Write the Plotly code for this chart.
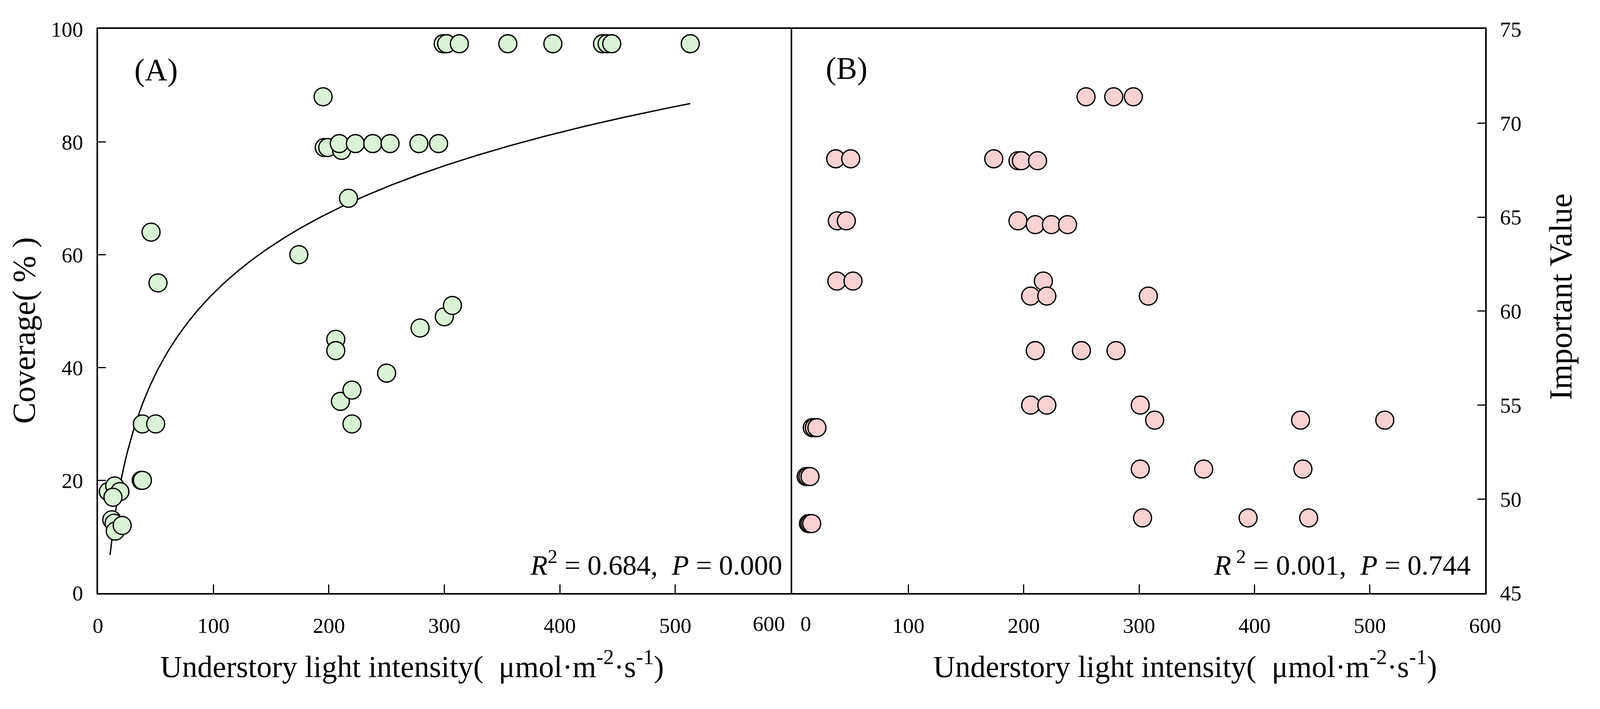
import numpy as np
import plotly.graph_objects as go

# panel A: understory light intensity vs coverage (%)
light_a = [9, 14.5, 19, 13, 12, 14, 15, 21, 37.5, 38.5, 38.5, 50, 46, 52,
           174, 195, 196, 199, 211, 209, 223, 238, 253, 278, 295, 217,
           206, 206, 210, 220, 220, 250, 279, 300, 307,
           299, 302, 313, 355, 394, 437, 441, 445, 513]
coverage = [18, 19, 18, 17, 13, 12.4, 11, 12, 20, 20, 30, 30, 64, 55,
            60, 88, 79, 79, 78.5, 79.7, 79.7, 79.7, 79.7, 79.7, 79.7, 70,
            45, 43, 34, 36, 30, 39, 47, 49, 51,
            97.4, 97.4, 97.4, 97.4, 97.4, 97.4, 97.4, 97.4, 97.4]

# panel B: understory light intensity vs important value
light_b = [254, 278, 295,
           37, 50, 174, 195, 198, 212,
           38.4, 46.2, 195, 210, 224, 238,
           38, 52, 217,
           206, 220, 308,
           210, 250, 280,
           206, 220, 301,
           313.5, 440, 513,
           16.7, 18.5, 20.7,
           301, 356, 442,
           11.4, 12.9, 14.7,
           303, 394.5, 447,
           13.4, 14.7, 16.2]
imp_value = [71.4, 71.4, 71.4,
             68.1, 68.1, 68.1, 68.0, 68.0, 68.0,
             64.8, 64.8, 64.8, 64.6, 64.6, 64.6,
             61.6, 61.6, 61.6,
             60.8, 60.8, 60.8,
             57.9, 57.9, 57.9,
             55.0, 55.0, 55.0,
             54.2, 54.2, 54.2,
             53.8, 53.8, 53.8,
             51.6, 51.6, 51.6,
             51.2, 51.2, 51.2,
             49.0, 49.0, 49.0,
             48.7, 48.7, 48.7]

# x ticks; the edge labels (600 on A, 0 on B) sit nudged off their ticks
a_xticks = [0, 100, 200, 300, 400, 500]
b_xticks = [100, 200, 300, 400, 500, 600]
a_edge_tick = 600
b_edge_tick = 0
cov_ticks = [0, 20, 40, 60, 80, 100]
iv_ticks = [45, 50, 55, 60, 65, 70, 75]

stats_a = "<i>R</i><sup>2</sup>\u00a0= 0.684,\u00a0\u00a0<i>P</i>\u00a0= 0.000"
stats_b = "<i>R</i><sup>\u00a02</sup>\u00a0= 0.001,\u00a0\u00a0<i>P</i>\u00a0= 0.744"
x_title = "Understory light intensity(\u00a0\u00a0\u03bcmol\u00b7m<sup>-2</sup>\u00b7s<sup>-1</sup>)"

# logarithmic fit y = a + b*ln(x) for panel A
b_fit, a_fit = np.polyfit(np.log(light_a), coverage, 1)
curve_x = np.linspace(min(light_a) + 1.5, max(light_a), 300)
curve_y = a_fit + b_fit * np.log(curve_x)

# positions below are fractions of the 4728 x 1816 reference
RW, RH = 4728, 1816
FONT = "Liberation Serif"
TICK_SIZE = 55
green = "#daf2d6"
pink = "#f9d1d2"

fig = go.Figure()
fig.add_trace(go.Scatter(x=curve_x, y=curve_y, mode="lines",
                         line=dict(color="black", width=3.5),
                         xaxis="x", yaxis="y", showlegend=False))
fig.add_trace(go.Scatter(x=light_a, y=coverage, mode="markers",
                         marker=dict(size=46, color=green,
                                     line=dict(color="black", width=3.3)),
                         xaxis="x", yaxis="y", showlegend=False))
fig.add_trace(go.Scatter(x=light_b, y=imp_value, mode="markers",
                         marker=dict(size=46, color=pink,
                                     line=dict(color="black", width=3.3)),
                         xaxis="x2", yaxis="y2", showlegend=False))

y_dom = [(RH - 1541) / RH, (RH - 46) / RH]
axis_common = dict(showline=True, linewidth=4, linecolor="black",
                   ticks="inside", tickwidth=3, tickcolor="black",
                   showgrid=False, zeroline=False,
                   tickfont=dict(family=FONT, size=TICK_SIZE, color="black"))

fig.update_layout(
    width=4080, height=1800,
    margin=dict(l=0, r=0, t=0, b=0),
    paper_bgcolor="white", plot_bgcolor="white",
    font=dict(family=FONT, color="black"),
    xaxis=dict(domain=[277 / RW, 2352 / RW], range=[0, 600], mirror=True,
               tickmode="array", tickvals=a_xticks,
               ticklen=22, ticklabelstandoff=32, anchor="y", **axis_common),
    yaxis=dict(domain=y_dom, range=[0, 100], mirror=True,
               tickmode="array", tickvals=cov_ticks,
               ticklen=20, ticklabelstandoff=23, anchor="x", **axis_common),
    xaxis2=dict(domain=[2352 / RW, 4432 / RW], range=[-2, 600], mirror=True,
                tickmode="array", tickvals=b_xticks,
                ticklen=22, ticklabelstandoff=32, anchor="y2", **axis_common),
    yaxis2=dict(domain=y_dom, range=[45, 75], side="right", mirror=False,
                tickmode="array", tickvals=iv_ticks,
                ticklen=20, ticklabelstandoff=23, anchor="x2", **axis_common),
)

ann = [
    dict(text="(A)", x=451 / RW, y=1 - 155 / RH, font=dict(size=80)),
    dict(text="(B)", x=2520 / RW, y=1 - 151 / RH, font=dict(size=80)),
    dict(text=stats_a, x=2328 / RW, y=1 - 1462 / RH, xanchor="right", font=dict(size=72)),
    dict(text=stats_b, x=4391 / RW, y=1 - 1462 / RH, xanchor="right", font=dict(size=72)),
    dict(text=x_title, x=1218 / RW, y=1 - 1730 / RH, font=dict(size=78)),
    dict(text=x_title, x=3533 / RW, y=1 - 1730 / RH, font=dict(size=78)),
    dict(text="Coverage(\u00a0%\u00a0)", x=56 / RW, y=1 - 845 / RH, textangle=-90, font=dict(size=82)),
    dict(text="Important Value", x=4659 / RW, y=1 - 756 / RH, textangle=-90, font=dict(size=82)),
]
for a in ann:
    a.setdefault("xanchor", "center")
    a.update(xref="paper", yref="paper", yanchor="middle", showarrow=False)
    a["font"].update(family=FONT, color="black")
    fig.add_annotation(**a)

# edge tick labels, placed on their axes and pushed clear of the shared border
fig.add_annotation(text=str(a_edge_tick), xref="x", x=a_edge_tick, yref="paper",
                   y=1 - 1622 / RH, yanchor="middle", xshift=-56, showarrow=False,
                   font=dict(family=FONT, size=TICK_SIZE, color="black"))
fig.add_annotation(text=str(b_edge_tick), xref="x2", x=b_edge_tick, yref="paper",
                   y=1 - 1622 / RH, yanchor="middle", xshift=33, showarrow=False,
                   font=dict(family=FONT, size=TICK_SIZE, color="black"))

# fit the figure to whatever viewport the page is opened in
fit_js = ("var gd=document.getElementById('{plot_id}');"
          "document.body.style.margin='0';"
          "Plotly.relayout(gd, {width: window.innerWidth, height: window.innerHeight});")
fig.write_html("out.html", post_script=fit_js, config={"displayModeBar": False})
